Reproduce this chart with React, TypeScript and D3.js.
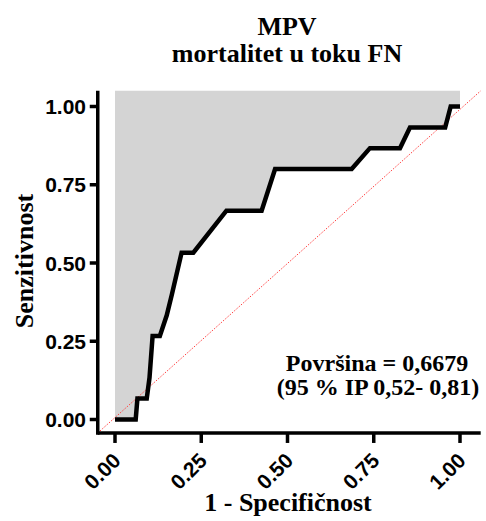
import React from "react";
import * as d3 from "d3";

const fpr = [0, 0.06, 0.065, 0.092, 0.1, 0.109, 0.13, 0.15, 0.165, 0.193, 0.227, 0.323, 0.425, 0.464, 0.686, 0.739, 0.826, 0.855, 0.957, 0.973, 1];
const tpr = [0, 0, 0.0667, 0.0667, 0.133, 0.267, 0.267, 0.333, 0.4, 0.533, 0.533, 0.667, 0.667, 0.8, 0.8, 0.867, 0.867, 0.933, 0.933, 1, 1];
const tickValues = [0, 0.25, 0.5, 0.75, 1];
const titleLines = ["MPV", "mortalitet u toku FN"];
const xLabel = "1 - Specifičnost";
const yLabel = "Senzitivnost";
const annotation = ["Površina = 0,6679", "(95 % IP 0,52- 0,81)"];

export default function App() {
  const x = d3.scaleLinear().domain([0, 1]).range([115, 460]);
  const y = d3.scaleLinear().domain([0, 1]).range([419.5, 106.5]);
  const xMin = -0.05, xMax = 1.06, yMin = -0.043, yMax = 1.05;
  const pts = fpr.map((f, i) => [f, tpr[i]] as [number, number]);
  const line = d3.line<[number, number]>().x(d => x(d[0])).y(d => y(d[1]));
  const area = d3.area<[number, number]>().x(d => x(d[0])).y0(() => y(yMax)).y1(d => y(d[1]));
  const serif = "'Liberation Serif', 'Times New Roman', serif";
  const sans = "'Liberation Sans', Arial, sans-serif";
  return (
    <svg width={486} height={521} style={{ position: "absolute", left: 0, top: 0, background: "#fff" }}>
      <path d={area(pts) || ""} fill="#d4d4d4" />
      <line x1={x(xMin)} y1={y(yMin)} x2={x(xMax)} y2={y(yMax)} stroke="#ff4040" strokeWidth={1} strokeDasharray="1.5,1.5" />
      <path d={line(pts) || ""} fill="none" stroke="#000" strokeWidth={4.5} strokeLinejoin="miter" />
      {/* axes */}
      <line x1={x(xMin)} y1={y(yMin)} x2={x(xMax)} y2={y(yMin)} stroke="#000" strokeWidth={3.5} />
      <line x1={x(xMin)} y1={y(yMin) + 1.75} x2={x(xMin)} y2={y(yMax)} stroke="#000" strokeWidth={3.5} />
      {tickValues.map(t => (
        <g key={"x" + t}>
          <line x1={x(t)} x2={x(t)} y1={y(yMin)} y2={y(yMin) + 10} stroke="#000" strokeWidth={3.5} />
          <text transform={`translate(${x(t) + 7},${y(yMin) + 29}) rotate(-45)`} textAnchor="end"
            fontFamily={sans} fontWeight="bold" fontSize={21}>{t.toFixed(2)}</text>
        </g>
      ))}
      {tickValues.map(t => (
        <g key={"y" + t}>
          <line x1={x(xMin)} x2={x(xMin) - 8} y1={y(t)} y2={y(t)} stroke="#000" strokeWidth={3.5} />
          <text x={86} y={y(t)} dy="0.36em" textAnchor="end" fontFamily={sans} fontWeight="bold" fontSize={21}>{t.toFixed(2)}</text>
        </g>
      ))}
      <text x={287} y={35} textAnchor="middle" fontFamily={serif} fontWeight="bold" fontSize={26}>{titleLines[0]}</text>
      <text x={287} y={62} textAnchor="middle" fontFamily={serif} fontWeight="bold" fontSize={26}>{titleLines[1]}</text>
      <text x={288} y={511} textAnchor="middle" fontFamily={serif} fontWeight="bold" fontSize={26}>{xLabel}</text>
      <text transform={`translate(33,261) rotate(-90)`} textAnchor="middle" fontFamily={serif} fontWeight="bold" fontSize={26}>{yLabel}</text>
      <text x={377} y={371} textAnchor="middle" fontFamily={serif} fontWeight="bold" fontSize={24}>{annotation[0]}</text>
      <text x={378} y={395} textAnchor="middle" fontFamily={serif} fontWeight="bold" fontSize={24}>{annotation[1]}</text>
    </svg>
  );
}
